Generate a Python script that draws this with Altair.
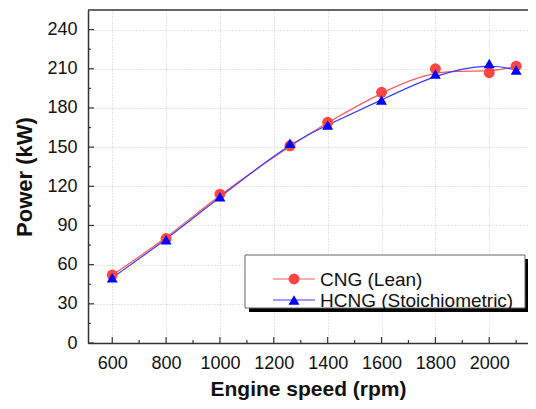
import altair as alt
import pandas as pd

# ---- data ----
rpm = [600, 800, 1000, 1260, 1400, 1600, 1800, 2000, 2100]
cng_lean = [52, 80, 114, 151, 169, 192, 210, 207, 212]
hcng_stoich = [50, 79, 112, 153, 167, 186, 206, 214, 209]
series_names = ["CNG (Lean)", "HCNG (Stoichiometric)"]
x_major = [600, 800, 1000, 1200, 1400, 1600, 1800, 2000]
x_minor = [700, 900, 1100, 1300, 1500, 1700, 1900, 2100]
y_major = [0, 30, 60, 90, 120, 150, 180, 210, 240]
y_minor = [15, 45, 75, 105, 135, 165, 195, 225]

W, H = 440, 333
FONT = "Liberation Sans"
RED_PT = "#ff4444"
RED_LN = "#ff5a5a"
BLUE_PT = "#0000ff"
BLUE_LN = "#3a3aff"
AX = "#333333"

rows = []
for name, vals in zip(series_names, [cng_lean, hcng_stoich]):
    for r, v in zip(rpm, vals):
        rows.append({"x": r, "y": v, "series": name})
df = pd.DataFrame(rows)

xscale = alt.Scale(domain=[510, 2144], nice=False, zero=False)
yscale = alt.Scale(domain=[0, 255], nice=False, zero=False)
color = alt.Color("series:N", scale=alt.Scale(domain=series_names, range=[RED_LN, BLUE_LN]), legend=None)

xaxis = alt.Axis(values=x_major, format="d", title="Engine speed (rpm)", ticks=False, labelPadding=11,
                 titlePadding=6, titleFontSize=21, grid=True, domainColor=AX, domainWidth=1.5,
                 gridDash=[1, 2], gridColor="#bdbdbd", gridWidth=0.8, labelFlush=False)
yaxis = alt.Axis(values=y_major, format="d", title="Power (kW)", ticks=False, labelPadding=11,
                 titlePadding=10, grid=True, domainColor=AX, domainWidth=1.5,
                 gridDash=[1, 2], gridColor="#bdbdbd", gridWidth=0.8, labelFlush=False)

base = alt.Chart(df)

lines = base.mark_line(interpolate="basis", strokeWidth=1.2).encode(
    x=alt.X("x:Q", scale=xscale, axis=xaxis),
    y=alt.Y("y:Q", scale=yscale, axis=yaxis),
    color=color,
    detail="series:N",
)

points = base.mark_point(filled=True, opacity=1, size=120).encode(
    x=alt.X("x:Q", scale=xscale),
    y=alt.Y("y:Q", scale=yscale),
    fill=alt.Fill("series:N", scale=alt.Scale(domain=series_names, range=[RED_PT, BLUE_PT]), legend=None),
    shape=alt.Shape("series:N", scale=alt.Scale(domain=series_names, range=["circle", "triangle-up"]), legend=None),
)

# inward tick marks
xt_major = alt.Chart(pd.DataFrame({"x": x_major})).mark_rule(color=AX, strokeWidth=1.2).encode(
    x=alt.X("x:Q", scale=xscale), y=alt.value(H), y2=alt.value(H - 6))
xt_minor = alt.Chart(pd.DataFrame({"x": x_minor})).mark_rule(color=AX, strokeWidth=1.2).encode(
    x=alt.X("x:Q", scale=xscale), y=alt.value(H), y2=alt.value(H - 3))
yt_major = alt.Chart(pd.DataFrame({"y": y_major})).mark_rule(color=AX, strokeWidth=1.2).encode(
    y=alt.Y("y:Q", scale=yscale), x=alt.value(0), x2=alt.value(6))
yt_minor = alt.Chart(pd.DataFrame({"y": y_minor})).mark_rule(color=AX, strokeWidth=1.2).encode(
    y=alt.Y("y:Q", scale=yscale), x=alt.value(0), x2=alt.value(3))

top_frame = alt.Chart(pd.DataFrame({"k": [0]})).mark_rule(color=AX, strokeWidth=1.5).encode(
    y=alt.value(0), x=alt.value(0), x2=alt.value(W))

# legend box
one = alt.Chart(pd.DataFrame({"k": [0]}))
shadow = one.mark_rect(color="#000000").encode(
    x=alt.value(161), x2=alt.value(440), y=alt.value(249), y2=alt.value(302))
box = one.mark_rect(fill="white", stroke="#666666", strokeWidth=1).encode(
    x=alt.value(157), x2=alt.value(437), y=alt.value(245), y2=alt.value(298))

leg_rows = [269, 290]
leg_layers = []
for name, yy, lc, pc, shp in zip(series_names, leg_rows, [RED_LN, BLUE_LN], [RED_PT, BLUE_PT],
                                  ["circle", "triangle-up"]):
    leg_layers.append(one.mark_rule(color=lc, strokeWidth=1.2).encode(
        x=alt.value(185), x2=alt.value(227), y=alt.value(yy)))
    leg_layers.append(one.mark_point(filled=True, opacity=1, size=120, shape=shp, color=pc).encode(
        x=alt.value(206), y=alt.value(yy)))
    leg_layers.append(one.mark_text(text=name, align="left", baseline="middle", font=FONT,
                                    fontSize=19, color="#111111").encode(
        x=alt.value(232), y=alt.value(yy + 1)))

chart = alt.layer(
    lines, xt_major, xt_minor, yt_major, yt_minor, top_frame, points,
    shadow, box, *leg_layers
).properties(
    width=W, height=H,
    padding={"left": 80, "top": 2, "right": 0, "bottom": 58},
    autosize=alt.AutoSizeParams(type="none"),
).configure_view(stroke=None).configure_axis(
    labelFont=FONT, labelFontSize=18, labelColor="#111111",
    titleFont=FONT, titleFontSize=22, titleFontWeight="bold", titleColor="#111111",
)

chart.save("out.html", embed_options={"renderer": "svg", "actions": False})
